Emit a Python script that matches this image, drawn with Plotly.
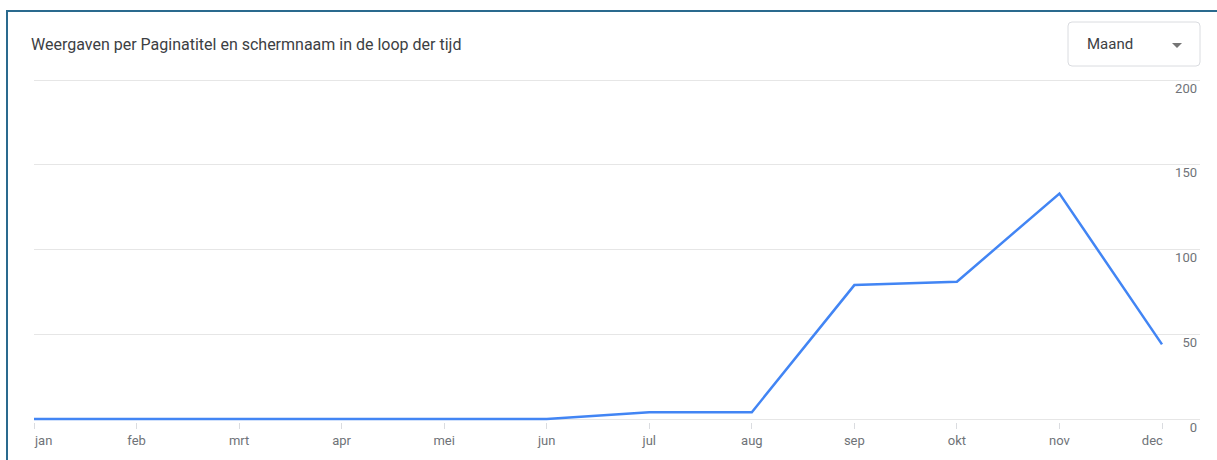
import plotly.graph_objects as go

# Weergaven per maand
MONTHS = ["jan", "feb", "mrt", "apr", "mei", "jun", "jul", "aug", "sep", "okt", "nov", "dec"]
VIEWS = [0, 0, 0, 0, 0, 0, 4, 4, 79, 81, 133, 44]
Y_TICKS = [0, 50, 100, 150, 200]

TITLE = "Weergaven per Paginatitel en schermnaam in de loop der tijd"
PERIOD = "Maand"

BLUE = "#4285f4"
GRID = "#e6e6e6"
TEXT = "#6f7378"
BORDER = "#2a6a8e"

# page and plot area in pixels, used to place the card decorations
W, H = 1217, 460
PAD = 3
L, R, T, B = 34, 1200, 80 - PAD, 419 + PAD
Y0_PX, Y200_PX = 419, 80
JAN_PX, DEC_PX = 34, 1162


def px(x):
    return (x - L) / (R - L)


def py(y):
    return (B - y) / (B - T)


per_month = (DEC_PX - JAN_PX) / 11
per_unit = (Y0_PX - Y200_PX) / 200

x_idx = list(range(len(MONTHS)))
tick_text = list(MONTHS)
tick_text[0] = "\u00a0" * 6 + MONTHS[0]
tick_text[-1] = MONTHS[-1] + "\u00a0" * 6

fig = go.Figure(
    go.Scatter(
        x=x_idx,
        y=VIEWS,
        mode="lines",
        line=dict(color=BLUE, width=2.5),
        cliponaxis=False,
        hoverinfo="skip",
    )
)

# small gap in the grid lines between the data and the y labels
gap_x0 = 11 + (1163 - DEC_PX) / per_month
gap_x1 = 11 + (1167 - DEC_PX) / per_month

shapes = [
    dict(type="rect", xref="x", yref="paper", x0=gap_x0, x1=gap_x1, y0=-0.01, y1=1.01,
         fillcolor="white", line=dict(width=0), layer="between"),
    # card border (top and left)
    dict(type="line", xref="paper", yref="paper", x0=px(6), x1=px(W + 5), y0=py(11), y1=py(11),
         line=dict(color=BORDER, width=2)),
    dict(type="line", xref="paper", yref="paper", x0=px(7), x1=px(7), y0=py(10), y1=py(H + 5),
         line=dict(color=BORDER, width=2)),
]

# dropdown box with rounded corners
bx0, bx1, by0, by1, r = 1068, 1200, 22, 66, 4
path = (
    f"M {px(bx0 + r)},{py(by0)} L {px(bx1 - r)},{py(by0)} "
    f"Q {px(bx1)},{py(by0)} {px(bx1)},{py(by0 + r)} L {px(bx1)},{py(by1 - r)} "
    f"Q {px(bx1)},{py(by1)} {px(bx1 - r)},{py(by1)} L {px(bx0 + r)},{py(by1)} "
    f"Q {px(bx0)},{py(by1)} {px(bx0)},{py(by1 - r)} L {px(bx0)},{py(by0 + r)} "
    f"Q {px(bx0)},{py(by0)} {px(bx0 + r)},{py(by0)} Z"
)
shapes.append(dict(type="path", xref="paper", yref="paper", path=path,
                   line=dict(color="#dadce0", width=1), fillcolor="white"))
# dropdown arrow
arrow = f"M {px(1172)},{py(43)} L {px(1182)},{py(43)} L {px(1177)},{py(48)} Z"
shapes.append(dict(type="path", xref="paper", yref="paper", path=arrow,
                   line=dict(width=0), fillcolor="#757575"))

annotations = [
    dict(text=TITLE, xref="paper", yref="paper", x=px(29), y=py(44), xanchor="left", yanchor="middle",
         showarrow=False, font=dict(size=16, color="#3c4043", family="Roboto, Arial, sans-serif")),
    dict(text=PERIOD, xref="paper", yref="paper", x=px(1085), y=py(44), xanchor="left", yanchor="middle",
         showarrow=False, font=dict(size=15, color="#3c4043", family="Roboto, Arial, sans-serif")),
]

fig.update_layout(
    width=W,
    height=H,
    margin=dict(l=L, r=W - R, t=T, b=H - B),
    plot_bgcolor="white",
    paper_bgcolor="white",
    showlegend=False,
    font=dict(family="Roboto, Arial, sans-serif", size=13, color=TEXT),
    shapes=shapes,
    annotations=annotations,
    xaxis=dict(
        range=[0, (R - L) / per_month],
        tickmode="array",
        tickvals=x_idx,
        ticktext=tick_text,
        ticks="outside",
        ticklen=6,
        tickcolor="#dadce0",
        tickfont=dict(size=13, color=TEXT),
        showgrid=False,
        zeroline=False,
        showline=False,
        fixedrange=True,
    ),
    yaxis=dict(
        range=[-(B - Y0_PX) / per_unit, 200 + (Y200_PX - T) / per_unit],
        tickvals=Y_TICKS,
        side="right",
        ticklabelposition="inside",
        ticklabelshift=8,
        ticklabeloverflow="allow",
        tickfont=dict(size=13, color=TEXT),
        showgrid=True,
        gridcolor=GRID,
        gridwidth=1,
        zeroline=False,
        showline=False,
        fixedrange=True,
    ),
)

fig.write_html(
    "out.html",
    config={"displayModeBar": False},
    post_script="document.body.style.margin = '0';",
)
